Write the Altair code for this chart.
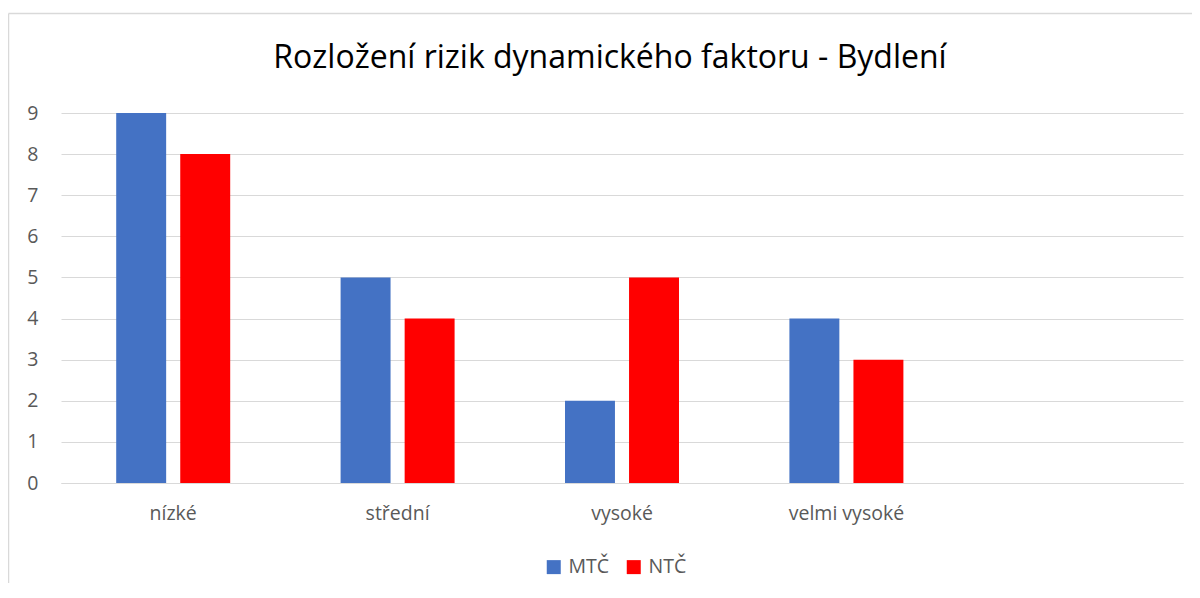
import altair as alt
import pandas as pd

categories = ["nízké", "střední", "vysoké", "velmi vysoké"]
extra_slot = [" "]
series = ["MTČ", "NTČ"]
mtc_values = [9, 5, 2, 4]
ntc_values = [8, 4, 5, 3]
y_ticks = [0, 1, 2, 3, 4, 5, 6, 7, 8, 9]
colors = ["#4472C4", "#FF0000"]
title_text = "Rozložení rizik dynamického faktoru - Bydlení"

rows = []
for c, v in zip(categories, mtc_values):
    rows.append({"kategorie": c, "soubor": "MTČ", "pocet": v})
for c, v in zip(categories, ntc_values):
    rows.append({"kategorie": c, "soubor": "NTČ", "pocet": v})
df = pd.DataFrame(rows)

FONT = "Open Sans"
W, H = 1122, 370

bars = alt.Chart(df).mark_bar().encode(
    x=alt.X("kategorie:N", sort=categories + extra_slot,
            scale=alt.Scale(domain=categories + extra_slot, paddingInner=0.492, paddingOuter=0.246),
            axis=alt.Axis(title=None, labelAngle=0, ticks=False, domain=True, domainColor="#D9D9D9",
                          domainWidth=1, labelFont=FONT, labelFontSize=19.5, labelColor="#595959",
                          labelPadding=21, grid=False)),
    xOffset=alt.XOffset("soubor:N", sort=series, scale=alt.Scale(paddingInner=0.22, paddingOuter=0)),
    y=alt.Y("pocet:Q", scale=alt.Scale(domain=[0, 9], nice=False),
            axis=alt.Axis(title=None, values=y_ticks, ticks=False, domain=False, grid=True,
                          gridColor="#D9D9D9", gridWidth=1, labelFont=FONT, labelFontSize=19.5,
                          labelColor="#595959", labelPadding=23)),
    color=alt.Color("soubor:N", sort=series, scale=alt.Scale(domain=series, range=colors),
                    legend=alt.Legend(title=None, orient="none", direction="horizontal",
                                      legendX=483, legendY=444, symbolType="square", symbolSize=196,
                                      symbolStrokeWidth=0, labelFont=FONT, labelFontSize=19.5,
                                      labelColor="#595959", columnPadding=14, labelOffset=5)),
)

single = pd.DataFrame({"k": [0]})
left_line = alt.Chart(single).mark_rule(color="#D9D9D9", strokeWidth=1.5).encode(
    x=alt.value(-52.5), y=alt.value(-99.5), y2=alt.value(474))
top_line = alt.Chart(single).mark_rule(color="#D9D9D9", strokeWidth=1.5).encode(
    x=alt.value(-52.5), x2=alt.value(1131), y=alt.value(-99.5))
title = alt.Chart(single).mark_text(font=FONT, fontSize=32, fontWeight="normal", color="#000000",
                                    align="center", baseline="alphabetic", text=title_text).encode(
    x=alt.value(549), y=alt.value(-45))

chart = alt.layer(left_line, top_line, title, bars).properties(
    width=W, height=H,
    autosize=alt.AutoSizeParams(type="none"),
    padding={"left": 53, "top": 105, "right": 9, "bottom": 100},
).configure_view(stroke=None)

chart.save("out.html", embed_options={"renderer": "svg", "actions": False})
